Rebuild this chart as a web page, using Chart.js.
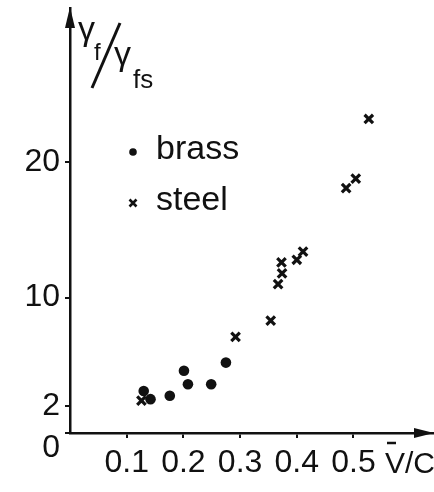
<!DOCTYPE html>
<html>
<head>
<meta charset="utf-8">
<script src="https://cdn.jsdelivr.net/npm/chart.js@4/dist/chart.umd.min.js"></script>
<style>
  body { margin: 0; background: #fff; }
  #wrap { width: 434px; height: 492px; }
</style>
</head>
<body>
<div id="wrap"><canvas id="scatterChart"></canvas></div>
<script>
// values (V/C vs gamma_f / gamma_fs)
const brassX = [0.130, 0.142, 0.176, 0.201, 0.208, 0.249, 0.275];
const brassY = [3.1, 2.5, 2.75, 4.6, 3.6, 3.6, 5.2];
const steelX = [0.126, 0.292, 0.354, 0.367, 0.374, 0.373, 0.400, 0.411, 0.487, 0.504, 0.527];
const steelY = [2.4, 7.1, 8.3, 11.0, 11.8, 12.6, 12.8, 13.4, 18.1, 18.8, 23.2];
const seriesNames = ['brass', 'steel'];
const xTicks = [0.1, 0.2, 0.3, 0.4, 0.5];
const yTicks = [0, 2, 10, 20];
const xMax = 0.642;
const yMax = 31.4;

const ink = '#111';
const fontFamily = 'Liberation Sans';

const toPoints = (xs, ys) => xs.map((x, i) => ({ x: x, y: ys[i] }));

// hand drawn bits: arrow heads, axis titles, legend, the lone "0"
const decorations = {
  id: 'decorations',
  afterDraw(chart) {
    const ctx = chart.ctx;
    const xs = chart.scales.x, ys = chart.scales.y;
    const ox = xs.getPixelForValue(0), oy = ys.getPixelForValue(0);
    const top = ys.getPixelForValue(yMax), right = xs.getPixelForValue(xMax);
    ctx.save();
    ctx.fillStyle = ink;
    ctx.strokeStyle = ink;

    // arrows
    ctx.beginPath();
    ctx.moveTo(ox, top - 1); ctx.lineTo(ox - 5, top + 20); ctx.lineTo(ox + 5, top + 20);
    ctx.closePath(); ctx.fill();
    ctx.beginPath();
    ctx.moveTo(right, oy); ctx.lineTo(right - 20, oy - 5); ctx.lineTo(right - 20, oy + 5);
    ctx.closePath(); ctx.fill();

    // "0" sits below the origin
    ctx.font = '32px ' + fontFamily;
    ctx.textAlign = 'right';
    ctx.textBaseline = 'middle';
    ctx.fillText('0', ox - 10, oy + 15);

    // y title  γf / γfs
    ctx.textAlign = 'left';
    ctx.textBaseline = 'alphabetic';
    ctx.font = '34px ' + fontFamily;
    ctx.fillText('γ', ox + 8, top + 32);
    ctx.font = '24px ' + fontFamily;
    ctx.fillText('f', ox + 24, top + 52);
    ctx.lineWidth = 3;
    ctx.beginPath();
    ctx.moveTo(ox + 50, top + 15); ctx.lineTo(ox + 22, top + 80);
    ctx.stroke();
    ctx.font = '34px ' + fontFamily;
    ctx.fillText('γ', ox + 44, top + 57);
    ctx.font = '26px ' + fontFamily;
    ctx.fillText('fs', ox + 63, top + 80);

    // x title  V̄/C.
    ctx.font = '30px ' + fontFamily;
    ctx.fillText('V/C.', 385, oy + 40);
    ctx.lineWidth = 2.5;
    ctx.beginPath();
    ctx.moveTo(387, oy + 10); ctx.lineTo(396, oy + 10);
    ctx.stroke();

    // legend
    ctx.font = '34px ' + fontFamily;
    chart.data.datasets.forEach((ds, i) => {
      const mx = 133, my = 152 + i * 51;
      if (ds.pointStyle === 'circle') {
        ctx.beginPath(); ctx.arc(mx, my, 3.8, 0, Math.PI * 2); ctx.fill();
      } else {
        ctx.lineWidth = 2.6;
        ctx.beginPath();
        ctx.moveTo(mx - 3.5, my - 3.5); ctx.lineTo(mx + 3.5, my + 3.5);
        ctx.moveTo(mx + 3.5, my - 3.5); ctx.lineTo(mx - 3.5, my + 3.5);
        ctx.stroke();
      }
      ctx.fillText(ds.label, 156, my + 7);
    });
    ctx.restore();
  }
};

const scatterChart = document.getElementById('scatterChart');

new Chart(scatterChart, {
  type: 'scatter',
  data: {
    datasets: [{
      label: seriesNames[0],
      data: toPoints(brassX, brassY),
      pointStyle: 'circle',
      pointRadius: 5.3,
      backgroundColor: ink,
      borderColor: ink,
      borderWidth: 0
    }, {
      label: seriesNames[1],
      data: toPoints(steelX, steelY),
      pointStyle: 'crossRot',
      pointRadius: 6,
      backgroundColor: ink,
      borderColor: ink,
      borderWidth: 3.2
    }]
  },
  options: {
    responsive: true,
    maintainAspectRatio: false,
    animation: false,
    layout: { autoPadding: false, padding: { top: 8, right: 0, left: 0, bottom: 0 } },
    plugins: {
      legend: { display: false },
      tooltip: { enabled: false }
    },
    scales: {
      x: {
        type: 'linear',
        min: 0,
        max: xMax,
        afterBuildTicks: (axis) => { axis.ticks = xTicks.map(v => ({ value: v })); },
        afterFit: (axis) => {
          axis.height = 59;
          axis.paddingLeft = 0;
          axis.paddingRight = 0;
        },
        border: { display: true, color: ink, width: 2.5 },
        grid: { drawOnChartArea: false, drawTicks: true, tickLength: 5, color: ink, lineWidth: 2 },
        ticks: {
          color: ink,
          padding: 6,
          maxRotation: 0,
          font: { family: fontFamily, size: 32 },
          callback: (v) => v.toFixed(1)
        }
      },
      y: {
        type: 'linear',
        min: 0,
        max: yMax,
        afterBuildTicks: (axis) => { axis.ticks = yTicks.map(v => ({ value: v })); },
        afterFit: (axis) => {
          axis.width = 70;
          axis.paddingTop = 0;
          axis.paddingBottom = 0;
        },
        border: { display: true, color: ink, width: 2.5 },
        grid: { drawOnChartArea: false, drawTicks: true, tickLength: 5, color: ink, lineWidth: 2 },
        ticks: {
          color: ink,
          padding: 5,
          font: { family: fontFamily, size: 32 },
          callback: (v) => (v === 0 ? '' : String(v))
        }
      }
    }
  },
  plugins: [decorations]
});
</script>
</body>
</html>
